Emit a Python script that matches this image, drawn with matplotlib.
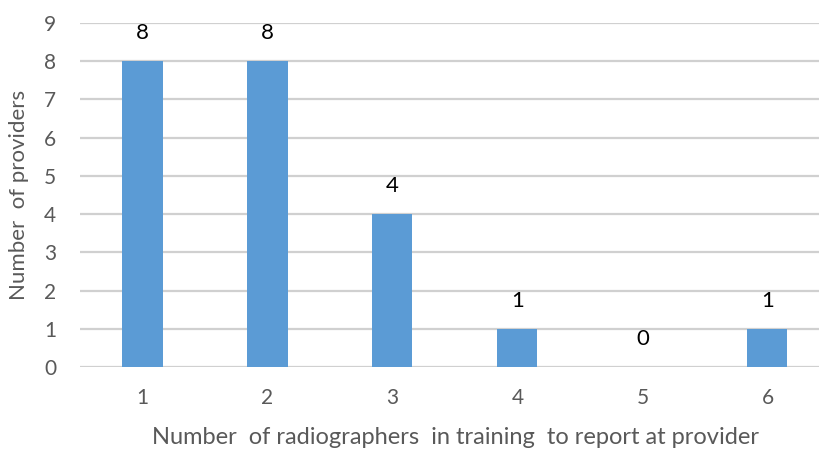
import matplotlib
matplotlib.use('Agg')
import matplotlib.pyplot as plt

# bar chart: providers by number of radiographers in training
categories = ['1', '2', '3', '4', '5', '6']
providers = [8, 8, 4, 1, 0, 1]

BAR_BLUE = '#5B9BD5'
GRID_GREY = '#D0D0D0'
TEXT_GREY = '#595959'

plt.rcParams['font.family'] = ['Lato', 'DejaVu Sans']

fig = plt.figure(figsize=(8.2, 4.5), dpi=100)
ax = fig.add_axes([80 / 820, 1 - 367 / 450, 1 - 80 / 820, (367 - 23) / 450])

x = list(range(1, len(categories) + 1))
ax.bar(x, providers, width=0.32, color=BAR_BLUE, zorder=3)
for xi, v in zip(x, providers):
    ax.annotate(str(v), (xi, v), xytext=(0, 20), textcoords='offset points',
                ha='center', va='center', fontsize=16, color='black')

ax.set_xlim(0.5, 6.42)
ax.set_ylim(0, 9)
ax.set_yticks(range(0, 10))
ax.set_xticks(x)
ax.set_xticklabels(categories)
ax.grid(axis='y', color=GRID_GREY, linewidth=1.6, zorder=0)
ax.tick_params(length=0, labelsize=15, colors=TEXT_GREY)
ax.tick_params(axis='y', pad=17)
ax.tick_params(axis='x', pad=15)
for s in ax.spines.values():
    s.set_visible(False)

ax.set_ylabel('Number  of providers', fontsize=16, color=TEXT_GREY, labelpad=11)
fig.text(455 / 820, 1 - 438 / 450, 'Number  of radiographers  in training  to report at provider',
         ha='center', va='center', fontsize=17, color=TEXT_GREY)

fig.savefig('out.png', dpi=100)
